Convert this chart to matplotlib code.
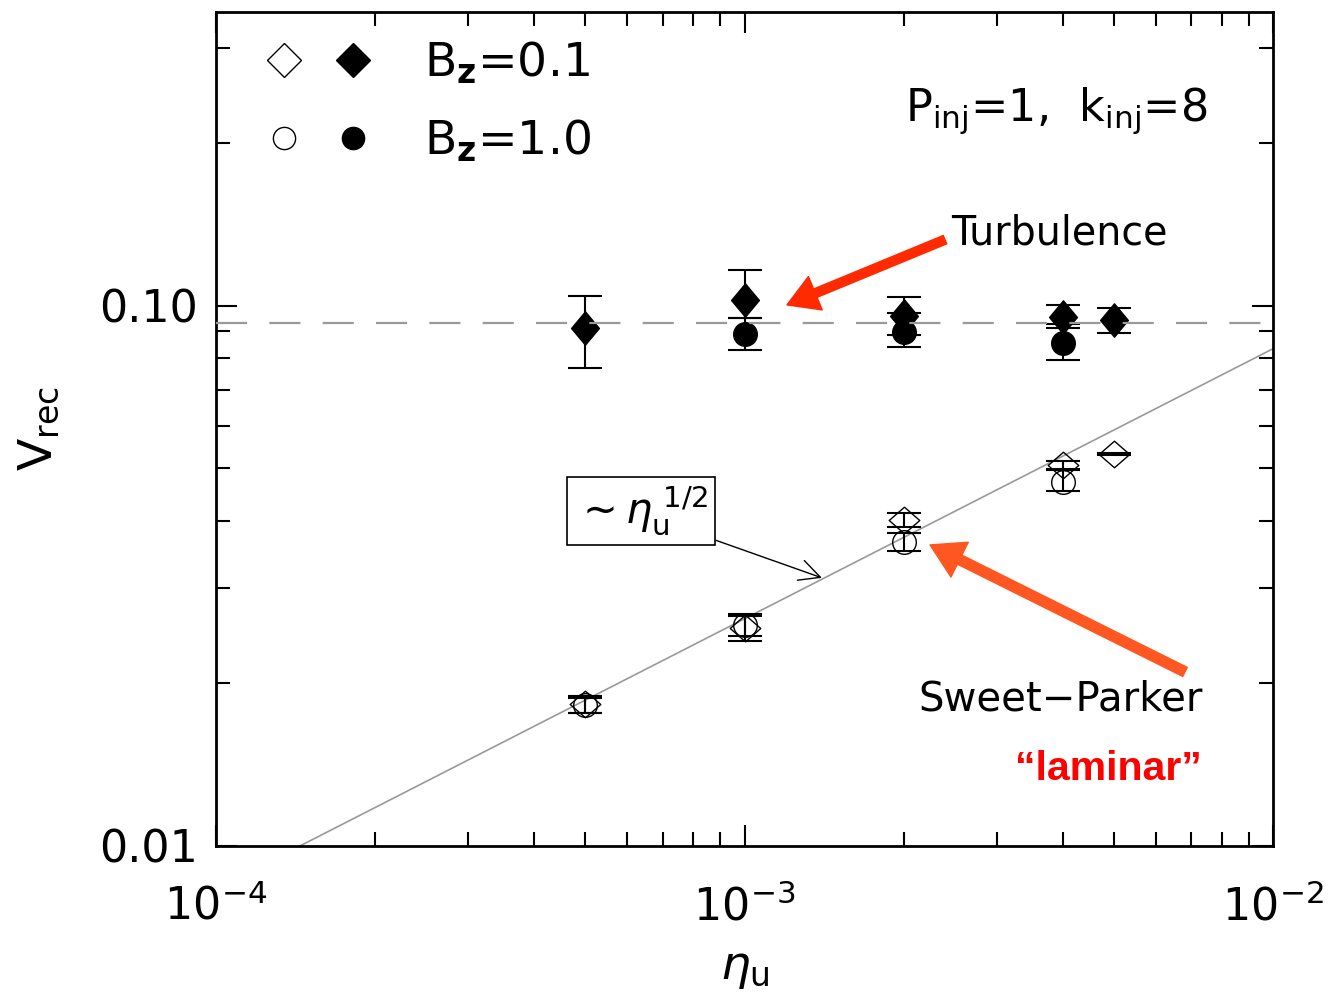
import numpy as np
import matplotlib
matplotlib.use('Agg')
import matplotlib.pyplot as plt
from matplotlib.lines import Line2D
from matplotlib.path import Path
from matplotlib.legend_handler import HandlerTuple
from matplotlib.ticker import FixedLocator, FixedFormatter, LogLocator, NullFormatter

plt.rcParams['font.family'] = ['DejaVu Sans']
plt.rcParams['mathtext.fontset'] = 'dejavusans'

# turbulent runs (filled symbols)
eta_turb_b01 = [5e-4, 1e-3, 2e-3, 4e-3, 5e-3]
v_turb_b01 = [0.0911, 0.1026, 0.0958, 0.0954, 0.0942]
v_turb_b01_lo = [0.0768, 0.0950, 0.0884, 0.0911, 0.0891]
v_turb_b01_hi = [0.1043, 0.1166, 0.1039, 0.1004, 0.0992]

eta_turb_b10 = [1e-3, 2e-3, 4e-3]
v_turb_b10 = [0.0888, 0.0895, 0.0854]
v_turb_b10_lo = [0.0829, 0.0840, 0.0794]
v_turb_b10_hi = [0.0950, 0.0970, 0.0926]

# laminar Sweet-Parker runs (open symbols)
eta_sp_b01 = [5e-4, 1e-3, 2e-3, 4e-3, 5e-3]
v_sp_b01 = [0.01832, 0.02533, 0.04015, 0.05077, 0.05320]
v_sp_b01_lo = [0.01763, 0.02397, 0.03897, 0.04990, 0.05300]
v_sp_b01_hi = [0.01896, 0.02690, 0.04137, 0.05164, 0.05340]

eta_sp_b10 = [5e-4, 1e-3, 2e-3, 4e-3]
v_sp_b10 = [0.0182, 0.02566, 0.03656, 0.0472]
v_sp_b10_lo = [0.01763, 0.02449, 0.0352, 0.0455]
v_sp_b10_hi = [0.01880, 0.02667, 0.0380, 0.0497]

v_turb_level = 0.093
sp_coef = 0.833  # v ~ coef * eta^(1/2)

# IDL-like diamonds
tall_diamond = Path([(0, 1.2), (1, 0), (0, -1.2), (-1, 0), (0, 1.2)],
                    [Path.MOVETO, Path.LINETO, Path.LINETO, Path.LINETO, Path.CLOSEPOLY])
wide_diamond = Path([(0, 0.87), (1, 0), (0, -0.87), (-1, 0), (0, 0.87)],
                    [Path.MOVETO, Path.LINETO, Path.LINETO, Path.LINETO, Path.CLOSEPOLY])

fig = plt.figure(figsize=(13.28, 9.99), dpi=100)
ax = fig.add_axes([0.1627, 0.1532, 0.7959, 0.8348])
ax.set_xscale('log')
ax.set_yscale('log')

eta_line = np.logspace(-4, -2, 50)
ax.plot(eta_line, sp_coef * np.sqrt(eta_line), color='#999999', lw=1.2, zorder=1)
ax.axhline(v_turb_level, color='#999999', lw=1.6, dashes=(14, 10), zorder=6)

def errs(v, lo, hi):
    v = np.array(v)
    return [v - np.array(lo), np.array(hi) - v]

ekw = dict(fmt='none', ecolor='k', elinewidth=1.5, capsize=12, capthick=1.5, zorder=4)
ax.errorbar(eta_turb_b01, v_turb_b01, yerr=errs(v_turb_b01, v_turb_b01_lo, v_turb_b01_hi), **ekw)
ax.errorbar(eta_turb_b10, v_turb_b10, yerr=errs(v_turb_b10, v_turb_b10_lo, v_turb_b10_hi), **ekw)
ax.errorbar(eta_sp_b01, v_sp_b01, yerr=errs(v_sp_b01, v_sp_b01_lo, v_sp_b01_hi), **ekw)
ax.errorbar(eta_sp_b10, v_sp_b10, yerr=errs(v_sp_b10, v_sp_b10_lo, v_sp_b10_hi), **ekw)

ax.plot(eta_turb_b01, v_turb_b01, ls='none', marker=tall_diamond, ms=24, color='k', zorder=3)
ax.plot(eta_turb_b10, v_turb_b10, ls='none', marker='o', ms=17, color='k', zorder=3)
ax.plot(eta_sp_b01, v_sp_b01, ls='none', marker=wide_diamond, ms=22, mfc='none', mec='k', mew=1.0, zorder=3)
ax.plot(eta_sp_b10, v_sp_b10, ls='none', marker='o', ms=17, mfc='none', mec='k', mew=1.0, zorder=3)

ax.set_xlim(1e-4, 1e-2)
ax.set_ylim(0.01, 0.35)

ax.yaxis.set_major_locator(FixedLocator([0.01, 0.1]))
ax.yaxis.set_major_formatter(FixedFormatter(['0.01', '0.10']))
ax.yaxis.set_minor_locator(LogLocator(subs=np.arange(2, 10)))
ax.yaxis.set_minor_formatter(NullFormatter())
ax.xaxis.set_minor_formatter(NullFormatter())
ax.tick_params(which='both', direction='in', top=True, right=True, width=1.5)
ax.tick_params(which='major', length=15)
ax.tick_params(axis='x', which='major', pad=28, labelsize=32)
ax.tick_params(axis='y', which='major', pad=13, labelsize=32)
ax.tick_params(which='minor', length=10)
for s in ax.spines.values():
    s.set_linewidth(2)

ax.set_xlabel(r'$\eta_{\mathrm{u}}$', fontsize=34, labelpad=12)
ax.set_ylabel(r'V$_{\mathrm{rec}}$', fontsize=34, labelpad=27)

# legend: open + filled symbol per row
h_od = Line2D([], [], ls='none', marker='D', ms=17, mfc='none', mec='k', mew=1.0)
h_fd = Line2D([], [], ls='none', marker='D', ms=17, color='k')
h_oc = Line2D([], [], ls='none', marker='o', ms=16, mfc='none', mec='k', mew=1.0)
h_fc = Line2D([], [], ls='none', marker='o', ms=16, color='k')
ax.legend([(h_od, h_fd), (h_oc, h_fc)],
          [r'B$_{\mathbf{z}}$=0.1', r'B$_{\mathbf{z}}$=1.0'],
          handler_map={tuple: HandlerTuple(ndivide=None, pad=0)},
          loc='upper left', bbox_to_anchor=(0.031, 0.966), frameon=False,
          fontsize=34, handlelength=2.95, handletextpad=0.75, borderpad=0,
          borderaxespad=0, labelspacing=0.65)

ax.text(0.652, 0.870, r'P$_{\mathrm{inj}}$=1,  k$_{\mathrm{inj}}$=8', transform=ax.transAxes,
        fontsize=32, ha='left', va='baseline')
ax.text(0.6954, 0.7206, 'Turbulence', transform=ax.transAxes,
        fontsize=28.5, ha='left', va='baseline')
ax.text(0.6641, 0.163, 'Sweet\u2212Parker', transform=ax.transAxes,
        fontsize=29, ha='left', va='baseline')
ax.text(0.7559, 0.0785, '\u201claminar\u201d', transform=ax.transAxes,
        fontsize=29.5, ha='left', va='baseline', color='#ff0000', fontweight='bold',
        family=['Liberation Sans Narrow', 'Liberation Sans', 'DejaVu Sans'])

ax.annotate('', xy=(1.203e-3, 0.1004), xytext=(2.395e-3, 0.1326),
            arrowprops=dict(arrowstyle='simple,head_length=0.85,head_width=1.0,tail_width=0.25',
                            mutation_scale=26, color='#ff2a00', shrinkA=0, shrinkB=0))
ax.annotate('', xy=(2.244e-3, 0.03609), xytext=(6.815e-3, 0.0210),
            arrowprops=dict(arrowstyle='simple,head_length=0.85,head_width=1.0,tail_width=0.26',
                            mutation_scale=28, color='#ff5722', shrinkA=0, shrinkB=0))

ax.annotate(r'$\sim\eta_{\mathrm{u}}^{\ 1/2}$', xy=(1.401e-3, 0.03136), xytext=(6.37e-4, 0.04173),
            fontsize=30, ha='center', va='center',
            bbox=dict(boxstyle='square,pad=0.18', fc='white', ec='k', lw=1.2),
            arrowprops=dict(arrowstyle='->,head_length=0.5,head_width=0.25', color='k', lw=1.0,
                            relpos=(1, 0), shrinkA=0, shrinkB=0))

fig.savefig('out.png', dpi=100)
